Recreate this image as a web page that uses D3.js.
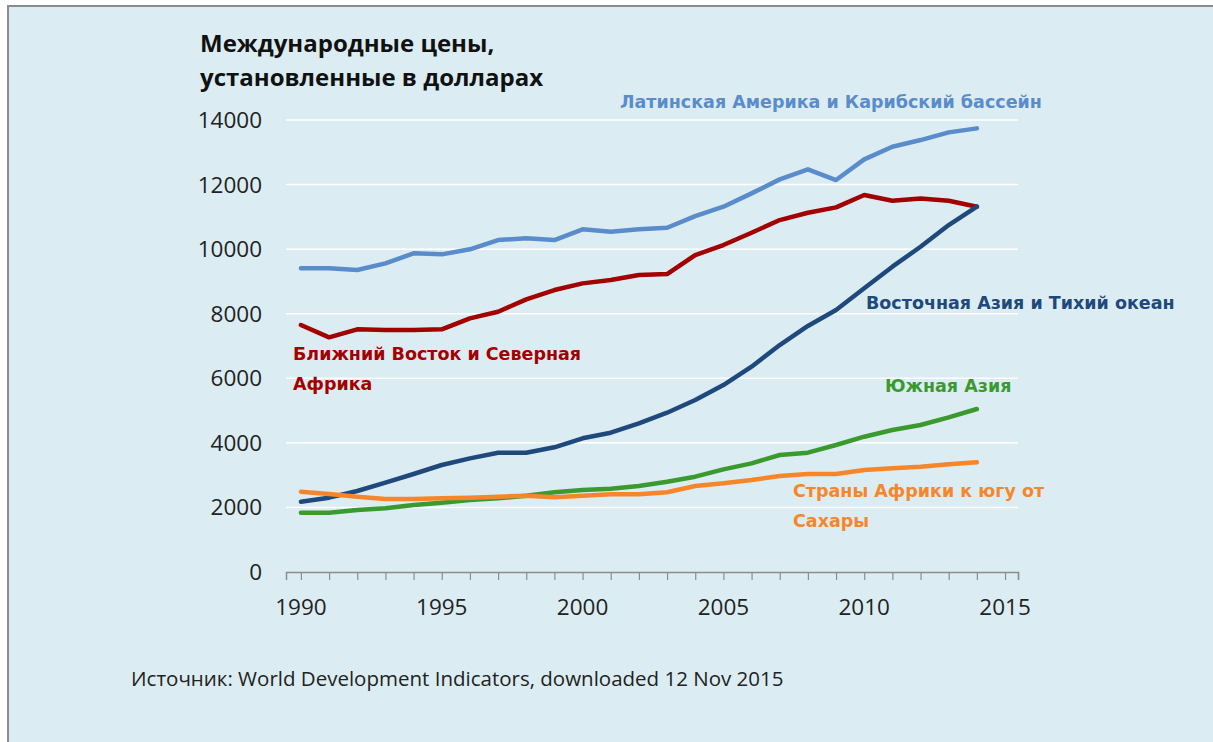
<!DOCTYPE html>
<html>
<head>
<meta charset="utf-8">
<script src="https://cdn.jsdelivr.net/npm/d3@7"></script>
<style>
  body { margin: 0; background: #fff; }
  svg { display: block; }
</style>
</head>
<body>
<svg id="chart" width="1213" height="742"></svg>
<script>
const years = d3.range(1990, 2015);
const yTicks = [0, 2000, 4000, 6000, 8000, 10000, 12000, 14000];
const xTickLabels = [1990, 1995, 2000, 2005, 2010, 2015];

const latinAmerica = [9405, 9405, 9353, 9560, 9870, 9839, 9994, 10282, 10334, 10282, 10613,
  10540, 10613, 10664, 11025, 11314, 11727, 12161, 12471, 12140, 12781, 13172, 13379, 13617, 13741];
const middleEast = [7650, 7268, 7516, 7495, 7495, 7516, 7857, 8062, 8445, 8733, 8940,
  9043, 9198, 9229, 9817, 10127, 10509, 10901, 11128, 11294, 11676, 11500, 11572, 11500, 11314];
const eastAsia = [2178, 2302, 2509, 2767, 3035, 3314, 3520, 3696, 3696, 3862, 4141,
  4314, 4605, 4934, 5327, 5791, 6359, 7030, 7620, 8114, 8786, 9456, 10075, 10747, 11314];
const southAsia = [1837, 1837, 1920, 1972, 2075, 2147, 2230, 2282, 2364, 2468, 2540,
  2581, 2664, 2798, 2953, 3180, 3366, 3624, 3696, 3933, 4191, 4398, 4553, 4790, 5048];
const subSaharan = [2488, 2416, 2333, 2261, 2261, 2282, 2302, 2333, 2364, 2313, 2364,
  2406, 2406, 2468, 2664, 2746, 2849, 2973, 3035, 3035, 3159, 3211, 3263, 3335, 3397];

const series = [
  {name: "Латинская Америка и Карибский бассейн", values: latinAmerica, color: "#5a8ccb",
    label: ["Латинская Америка и Карибский бассейн"], lx: 620, ly: 108},
  {name: "Ближний Восток и Северная Африка", values: middleEast, color: "#a30000",
    label: ["Ближний Восток и Северная", "Африка"], lx: 293, ly: 360},
  {name: "Восточная Азия и Тихий океан", values: eastAsia, color: "#1f497d",
    label: ["Восточная Азия и Тихий океан"], lx: 866, ly: 309},
  {name: "Южная Азия", values: southAsia, color: "#3b9a2e",
    label: ["Южная Азия"], lx: 885, ly: 392},
  {name: "Страны Африки к югу от Сахары", values: subSaharan, color: "#f7862a",
    label: ["Страны Африки к югу от", "Сахары"], lx: 793, ly: 497}
];

const svg = d3.select("#chart");
const W = 1213, H = 742;

// panel
svg.append("rect").attr("x", 0).attr("y", 0).attr("width", W).attr("height", H).attr("fill", "#fff");
svg.append("rect").attr("x", 8).attr("y", 6).attr("width", W - 8).attr("height", H - 6).attr("fill", "#dbedf3");
svg.append("path").attr("d", `M8,${H} V6 H${W}`).attr("fill", "none").attr("stroke", "#8c8c8c").attr("stroke-width", 2);

const x = d3.scaleLinear().domain([1989.47, 2015.46]).range([286, 1018]);
const y = d3.scaleLinear().domain([0, 14000]).range([572, 120]);

const g = svg.append("g");

// gridlines
g.selectAll(".grid").data(yTicks.filter(d => d > 0)).join("line")
  .attr("x1", x.range()[0]).attr("x2", x.range()[1])
  .attr("y1", d => y(d)).attr("y2", d => y(d))
  .attr("stroke", "#fff").attr("stroke-width", 1.5);

// y axis labels
g.selectAll(".ylab").data(yTicks).join("text")
  .attr("x", 262).attr("y", d => y(d) + 8)
  .attr("text-anchor", "end")
  .attr("font-family", "Open Sans, sans-serif").attr("font-size", 22.5)
  .attr("fill", "#222")
  .text(d => d);

// x axis
const xAxis = g.append("g").attr("transform", `translate(0,${y(0)})`)
  .call(d3.axisBottom(x).tickValues(d3.range(1990, 2016).concat([2015.46])).tickSize(8).tickFormat(""));
xAxis.select(".domain").attr("stroke", "#8c8c8c").attr("stroke-width", 1.5);
xAxis.selectAll(".tick line").attr("stroke", "#8c8c8c").attr("stroke-width", 1.2);

g.selectAll(".xlab").data(xTickLabels).join("text")
  .attr("x", d => x(d)).attr("y", 615)
  .attr("text-anchor", "middle")
  .attr("font-family", "Open Sans, sans-serif").attr("font-size", 22.5)
  .attr("fill", "#222")
  .text(d => d);

// lines
const line = d3.line().x((d, i) => x(years[i])).y(d => y(d));
g.selectAll(".series").data(series).join("path")
  .attr("fill", "none")
  .attr("stroke", d => d.color)
  .attr("stroke-width", 4.5)
  .attr("stroke-linejoin", "round")
  .attr("stroke-linecap", "round")
  .attr("d", d => line(d.values));

// series labels
series.forEach(s => {
  const t = g.append("text")
    .attr("font-family", "DejaVu Sans, Verdana, sans-serif")
    .attr("font-weight", "bold").attr("font-size", 17.5)
    .attr("fill", s.color);
  s.label.forEach((l, i) => {
    t.append("tspan").attr("x", s.lx).attr("y", s.ly + i * 30).text(l);
  });
});

// title
const title = svg.append("text")
  .attr("font-family", "Open Sans, sans-serif").attr("font-weight", "bold")
  .attr("font-size", 24).attr("fill", "#111");
title.append("tspan").attr("x", 200).attr("y", 52).text("Международные цены,");
title.append("tspan").attr("x", 200).attr("y", 86).text("установленные в долларах");

// source
svg.append("text")
  .attr("x", 131).attr("y", 686)
  .attr("font-family", "Open Sans, sans-serif").attr("font-size", 20.5)
  .attr("fill", "#222")
  .text("Источник: World Development Indicators, downloaded 12 Nov 2015");
</script>
</body>
</html>
